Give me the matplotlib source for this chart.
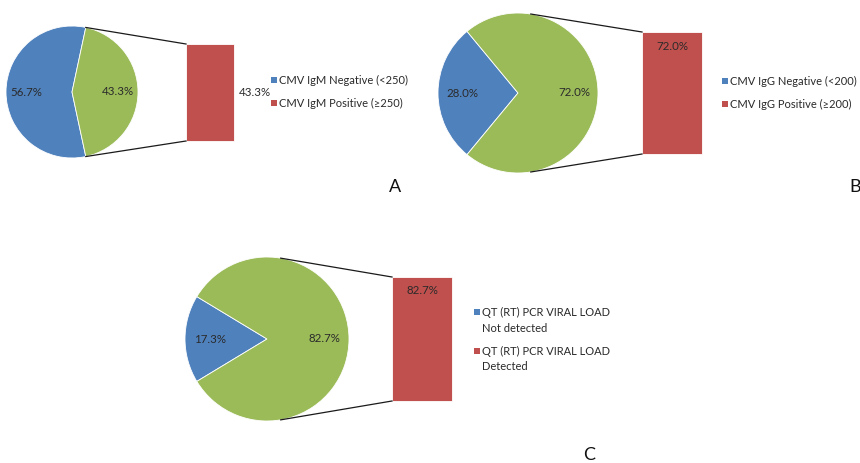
import numpy as np
import matplotlib
matplotlib.use("Agg")
import matplotlib.pyplot as plt

plt.rcParams['font.family'] = ['Lato', 'DejaVu Sans']

W, H = 860, 463

# share of patients (%) per test: [negative, positive]
igm_values = [56.7, 43.3]
igg_values = [28.0, 72.0]
pcr_values = [17.3, 82.7]

igm_labels = ['CMV IgM Negative (<250)', 'CMV IgM Positive (\u2265250)']
igg_labels = ['CMV IgG Negative (<200)', 'CMV IgG Positive (\u2265200)']
pcr_labels = ['QT (RT) PCR VIRAL LOAD\nNot detected', 'QT (RT) PCR VIRAL LOAD\nDetected']

panel_letters = ['A', 'B', 'C']

BLUE = '#4F81BD'
GREEN = '#9BBB59'
RED = '#C0504D'
TXT = '#2a2a2a'
FS = 8.3
LEG_FS = 8

# layout in pixels (y measured from the top)
layout = [
    dict(pie=(72, 92, 66), bar=(186, 44, 48, 97), val_out=True,
         leg=(274, 80), letter=(395, 187)),
    dict(pie=(518, 93, 80), bar=(642, 32, 60, 122), val_out=False,
         leg=(725, 81), letter=(855, 187)),
    dict(pie=(267, 339, 82), bar=(392, 277, 60, 124), val_out=False,
         leg=(477, 312), letter=(589, 455)),
]

fig = plt.figure(figsize=(W / 100, H / 100), dpi=100)
ax = fig.add_axes([0, 0, 1, 1])


def pie_of_bar(ax, values, labels, lay, letter):
    cx, cy, r = lay['pie']
    cy = H - cy
    neg, pos = values
    start = 180 - neg * 3.6 / 2
    ax.pie(values, colors=[BLUE, GREEN], center=(cx, cy), radius=r,
           startangle=start, autopct='%.1f%%', pctdistance=0.7,
           wedgeprops=dict(edgecolor='white', linewidth=0.6),
           textprops=dict(fontsize=FS, color=TXT))

    bx, by, bw, bh = lay['bar']
    btop = H - by
    ax.bar(bx, bh, width=bw, bottom=btop - bh, align='edge', color=RED,
           edgecolor='white', linewidth=0.6)

    # connector lines: tangent to the circle, limited to the slice edge
    half = np.radians(pos * 3.6 / 2)
    for py, sign in [(btop, 1), (btop - bh, -1)]:
        dx, dy = bx - cx, py - cy
        d = np.hypot(dx, dy)
        ang = np.arctan2(dy, dx) + sign * np.arccos(r / d)
        ang = np.clip(ang, -half, half)
        ax.plot([cx + r * np.cos(ang), bx], [cy + r * np.sin(ang), py],
                color='#1a1a1a', linewidth=0.9)

    if lay['val_out']:
        ax.text(bx + bw + 5, btop - bh / 2, f'{pos:.1f}%', fontsize=FS,
                color=TXT, ha='left', va='center')
    else:
        ax.text(bx + bw / 2, btop - 14, f'{pos:.1f}%', fontsize=FS,
                color=TXT, ha='center', va='center')

    # legend: small square next to the first line of each entry
    lx, ly = lay['leg']
    y = ly
    for color, label in zip([BLUE, RED], labels):
        ax.scatter([lx], [H - y], s=20, marker='s', color=color,
                   edgecolors='none')
        lines = label.split('\n')
        for k, line in enumerate(lines):
            ax.text(lx + 5, H - (y + 16 * k), line, fontsize=LEG_FS,
                    color=TXT, ha='left', va='center')
        y += 16 * len(lines) + 7

    tx, ty = lay['letter']
    ax.text(tx, H - ty, letter, fontsize=13, color='#111111',
            ha='center', va='center')


pie_of_bar(ax, igm_values, igm_labels, layout[0], panel_letters[0])
pie_of_bar(ax, igg_values, igg_labels, layout[1], panel_letters[1])
pie_of_bar(ax, pcr_values, pcr_labels, layout[2], panel_letters[2])

ax.set_xlim(0, W)
ax.set_ylim(0, H)
ax.set_aspect('auto')
ax.axis('off')

fig.savefig('out.png', dpi=100, facecolor='white')
